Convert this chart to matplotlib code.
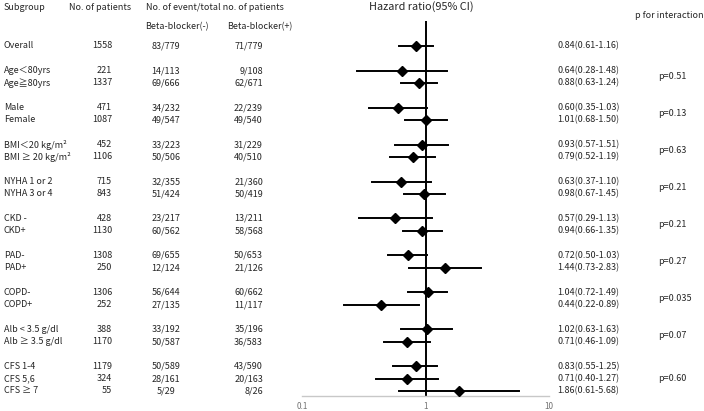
import matplotlib
matplotlib.use("Agg")
import matplotlib.pyplot as plt
from matplotlib.transforms import blended_transform_factory

plt.rcParams['font.family'] = ['Noto Sans CJK JP', 'DejaVu Sans']

groups = [
    ["Overall"],
    ["Age＜80yrs", "Age≧80yrs"],
    ["Male", "Female"],
    ["BMI＜20 kg/m²", "BMI ≥ 20 kg/m²"],
    ["NYHA 1 or 2", "NYHA 3 or 4"],
    ["CKD -", "CKD+"],
    ["PAD-", "PAD+"],
    ["COPD-", "COPD+"],
    ["Alb < 3.5 g/dl", "Alb ≥ 3.5 g/dl"],
    ["CFS 1-4", "CFS 5,6", "CFS ≥ 7"],
]
p_values = ["", "p=0.51", "p=0.13", "p=0.63", "p=0.21", "p=0.21", "p=0.27",
            "p=0.035", "p=0.07", "p=0.60"]
n_patients = [1558, 221, 1337, 471, 1087, 452, 1106, 715, 843, 428, 1130,
              1308, 250, 1306, 252, 388, 1170, 1179, 324, 55]
events_minus = ["83/779", "14/113", "69/666", "34/232", "49/547", "33/223", "50/506",
                "32/355", "51/424", "23/217", "60/562", "69/655", "12/124",
                "56/644", "27/135", "33/192", "50/587", "50/589", "28/161", "5/29"]
events_plus = ["71/779", "9/108", "62/671", "22/239", "49/540", "31/229", "40/510",
               "21/360", "50/419", "13/211", "58/568", "50/653", "21/126",
               "60/662", "11/117", "35/196", "36/583", "43/590", "20/163", "8/26"]
hr = [0.84, 0.64, 0.88, 0.60, 1.01, 0.93, 0.79, 0.63, 0.98, 0.57, 0.94,
      0.72, 1.44, 1.04, 0.44, 1.02, 0.71, 0.83, 0.71, 1.86]
ci_low = [0.61, 0.28, 0.63, 0.35, 0.68, 0.57, 0.52, 0.37, 0.67, 0.29, 0.66,
          0.50, 0.73, 0.72, 0.22, 0.63, 0.46, 0.55, 0.40, 0.61]
ci_high = [1.16, 1.48, 1.24, 1.03, 1.50, 1.51, 1.19, 1.10, 1.45, 1.13, 1.35,
           1.03, 2.83, 1.49, 0.89, 1.63, 1.09, 1.25, 1.27, 5.68]
x_ticks = [0.1, 1, 10]
x_ticklabels = ["0.1", "1", "10"]

# row positions (one blank row between groups)
labels, ypos, p_y = [], [], []
r = 0
for g in groups:
    start = r
    for lab in g:
        labels.append(lab)
        ypos.append(r)
        r += 1
    p_y.append((start + r - 1) / 2)
    r += 1

W, H = 704, 411
fig = plt.figure(figsize=(W / 100, H / 100), dpi=100)
unit = 12.32
top_px, bot_px = 21.4, 396
ax = fig.add_axes([302 / W, 1 - bot_px / H, (549 - 302) / W, (bot_px - top_px) / H])
ax.set_xscale('log')
ax.set_xlim(0.1, 10)
ax.set_ylim((bot_px - 46) / unit, (top_px - 46) / unit)

ax.plot([1, 1], [(bot_px - 46) / unit, (top_px - 46) / unit], color='black', lw=1.4, zorder=2)
for y, h, lo, hi in zip(ypos, hr, ci_low, ci_high):
    ax.plot([lo, hi], [y, y], color='black', lw=1.4, zorder=3)
ax.plot(hr, ypos, linestyle='none', marker='D', color='black', markersize=5.5, zorder=4)

for s in ['top', 'right', 'left']:
    ax.spines[s].set_visible(False)
ax.spines['bottom'].set_color('#c8c8c8')
ax.spines['bottom'].set_linewidth(1.0)
ax.set_yticks([])
ax.set_xticks(x_ticks)
ax.set_xticklabels(x_ticklabels, fontsize=5.8, color='#707070')
ax.minorticks_off()
ax.tick_params(axis='x', length=0, pad=4)

tr = blended_transform_factory(fig.transFigure, ax.transData)
fs = 6.5
col = '#262626'

# headers
fig.text(4 / W, 1 - 7 / H, "Subgroup", fontsize=fs, color=col, va='center', ha='left')
fig.text(100 / W, 1 - 7 / H, "No. of patients", fontsize=fs, color=col, va='center', ha='center')
fig.text(146 / W, 1 - 7 / H, "No. of event/total no. of patients", fontsize=fs, color=col,
         va='center', ha='left')
fig.text(177 / W, 1 - 27 / H, "Beta-blocker(-)", fontsize=fs, color=col, va='center', ha='center')
fig.text(260 / W, 1 - 27 / H, "Beta-blocker(+)", fontsize=fs, color=col, va='center', ha='center')
fig.text(421 / W, 1 - 10 / H, "Hazard ratio(95% CI)", fontsize=7.8, color=col, va='baseline', ha='center')
fig.text(669 / W, 1 - 15 / H, "p for interaction", fontsize=fs, color=col, va='center', ha='center')

for i, y in enumerate(ypos):
    ax.text(4 / W, y, labels[i], transform=tr, fontsize=fs, color=col, va='center', ha='left')
    ax.text(112 / W, y, str(n_patients[i]), transform=tr, fontsize=fs, color=col, va='center', ha='right')
    ax.text(166 / W, y, events_minus[i], transform=tr, fontsize=fs, color=col, va='center', ha='center')
    ax.text(263 / W, y, events_plus[i], transform=tr, fontsize=fs, color=col, va='center', ha='right')
    ax.text(557 / W, y, f"{hr[i]:.2f}({ci_low[i]:.2f}-{ci_high[i]:.2f})", transform=tr,
            fontsize=fs, color=col, va='center', ha='left')
for p, y in zip(p_values, p_y):
    if p:
        ax.text(658 / W, y, p, transform=tr, fontsize=fs, color=col, va='center', ha='left')

fig.savefig("out.png", dpi=100)
